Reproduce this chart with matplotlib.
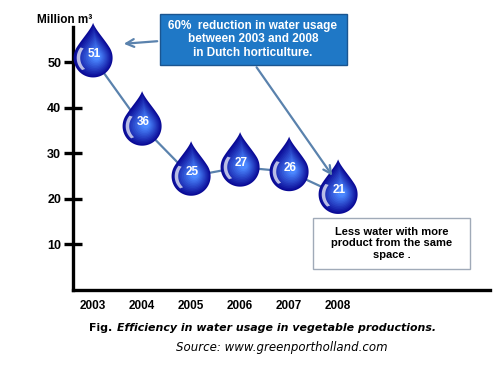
import matplotlib
matplotlib.use('Agg')
import matplotlib.pyplot as plt
import numpy as np
from matplotlib.path import Path
from matplotlib.patches import PathPatch, Rectangle
from matplotlib.transforms import Affine2D, ScaledTranslation

years = [2003, 2004, 2005, 2006, 2007, 2008]
usage = [51, 36, 25, 27, 26, 21]
yticks = [10, 20, 30, 40, 50]

plt.rcParams['font.family'] = ['Liberation Sans', 'DejaVu Sans']

fig = plt.figure(figsize=(5, 3.75), dpi=100)
# axes: left edge x=73px, bottom y=290px (from top), top y=28px, right x=490px
ax = fig.add_axes([73 / 500, 85 / 375, 417 / 500, 263 / 375])
ax.set_xlim(2002.59, 2011.1)
ax.set_ylim(0, 57.8)

for s in ['top', 'right']:
    ax.spines[s].set_visible(False)
for s in ['left', 'bottom']:
    ax.spines[s].set_linewidth(2.4)
ax.set_yticks(yticks)
ax.set_yticklabels([str(v) for v in yticks], fontsize=9, fontweight='bold')
ax.tick_params(axis='y', direction='inout', length=13, width=2.4, pad=2)
ax.set_xticks(years)
ax.set_xticklabels([str(v) for v in years], fontsize=8.5, fontweight='bold')
ax.tick_params(axis='x', length=0, pad=7)
ax.patch.set_alpha(0)

fig.text(65 / 500, 1 - 20 / 375, 'Million m³', ha='center', va='center',
         fontsize=8.5, fontweight='bold')

# connecting line
ax.plot(years, usage, color='#5a82ad', lw=1.6, zorder=2, clip_on=False)


def drop_points(tip=1.8, n=60):
    a0 = np.radians(32)
    px, py = np.cos(a0), np.sin(a0)
    k = 0.55
    p0 = np.array([0.0, tip])
    p1 = np.array([0.12, tip - 0.35])
    p3 = np.array([px, py])
    p2 = p3 - k * np.array([np.sin(a0), -np.cos(a0)])
    t = np.linspace(0, 1, n)[:, None]
    right = (1 - t) ** 3 * p0 + 3 * (1 - t) ** 2 * t * p1 + 3 * (1 - t) * t ** 2 * p2 + t ** 3 * p3
    ang = np.linspace(a0, np.pi - a0 - 2 * np.pi, 2 * n)
    arc = np.column_stack([np.cos(ang), np.sin(ang)])
    left = right[::-1] * np.array([-1, 1])
    return np.vstack([right, arc, left])


base = drop_points()
r_px = 19.5
c_dark = np.array([10, 10, 150]) / 255
c_light = np.array([75, 135, 255]) / 255

for x, v in zip(years, usage):
    tr = ScaledTranslation(x, v, ax.transData)
    nl = 12
    for i in range(nl):
        f = i / (nl - 1)
        s = 1 - 0.8 * f
        cen = np.array([0.22, 0.1])
        pts = (base - cen) * s + cen
        col = c_dark * (1 - f) + c_light * f
        ax.add_patch(PathPatch(Path(pts), facecolor=col, edgecolor='none',
                               transform=Affine2D().scale(r_px) + tr, zorder=3,
                               clip_on=False))
    # thin white highlight on the left
    a = np.linspace(np.radians(140), np.radians(228), 30)
    outer = np.column_stack([0.84 * np.cos(a), 0.84 * np.sin(a)])
    inner = np.column_stack([0.1 + 0.76 * np.cos(a[::-1]), 0.76 * np.sin(a[::-1])])
    cres = np.vstack([outer, inner])
    ax.add_patch(PathPatch(Path(cres), facecolor='white', edgecolor='none', alpha=0.7,
                           transform=Affine2D().scale(r_px) + tr, zorder=4, clip_on=False))
    ax.annotate(str(v), (x, v), xytext=(1, 3), textcoords='offset points',
                ha='center', va='center', color='white', fontsize=8.5,
                fontweight='bold', zorder=5)

# blue callout box
fig.patches.append(Rectangle((160 / 500, 310 / 375), 187 / 500, 51 / 375,
                             transform=fig.transFigure, facecolor='#1f78c6',
                             edgecolor='#1a5590', lw=1.0, zorder=1))
fig.text(253 / 500, 1 - 39.5 / 375,
         '60%  reduction in water usage\nbetween 2003 and 2008\nin Dutch horticulture.',
         ha='center', va='center', color='white', fontsize=8.5, fontweight='bold',
         linespacing=1.15, zorder=6)

arrow = dict(arrowstyle='->', color='#5a82ad', lw=1.6, mutation_scale=14)
ax.annotate('', xy=(121, 375 - 44), xycoords='figure pixels',
            xytext=(160, 375 - 41), textcoords='figure pixels', arrowprops=arrow)
ax.annotate('', xy=(334, 375 - 178), xycoords='figure pixels',
            xytext=(255, 375 - 65), textcoords='figure pixels', arrowprops=arrow)

# white note box
fig.patches.append(Rectangle((313 / 500, 106 / 375), 157 / 500, 51 / 375,
                             transform=fig.transFigure, facecolor='white',
                             edgecolor='#a0aab8', lw=1.0, zorder=1))
fig.text(391.5 / 500, 1 - 243.5 / 375,
         'Less water with more\nproduct from the same\nspace .',
         ha='center', va='center', color='black', fontsize=8, fontweight='bold',
         linespacing=1.2, zorder=6)

# caption
fig.text(112 / 500, 1 - 328 / 375, 'Fig.', ha='right', va='center',
         fontsize=7.9, fontweight='bold', family='DejaVu Sans')
fig.text(117 / 500, 1 - 328 / 375, 'Efficiency in water usage in vegetable productions.',
         ha='left', va='center', fontsize=7.9, fontweight='bold', style='italic',
         family='DejaVu Sans')
fig.text(282 / 500, 1 - 347 / 375, 'Source: www.greenportholland.com', ha='center',
         va='center', fontsize=8.5, style='italic', family='DejaVu Sans')

fig.savefig('out.png', dpi=100)
